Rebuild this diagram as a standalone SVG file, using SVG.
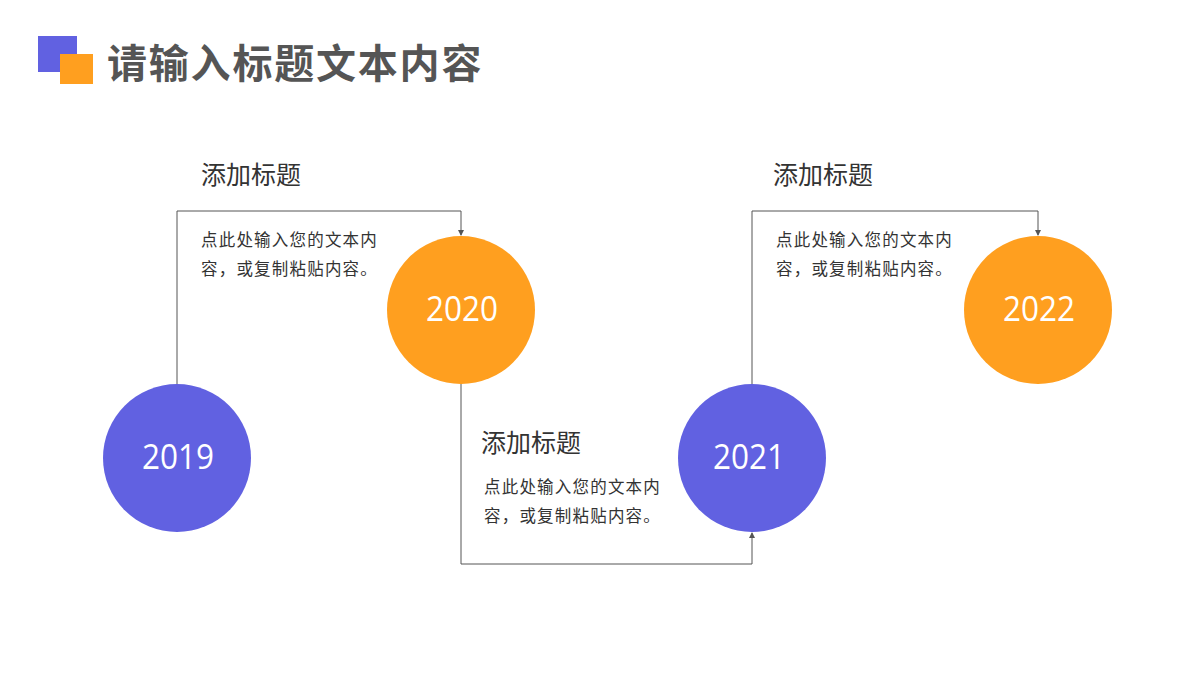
<svg xmlns="http://www.w3.org/2000/svg" width="1200" height="680" viewBox="0 0 1200 680">
<style>
.t{font-family:"Liberation Sans","Noto Sans CJK SC",sans-serif;fill:#333}
.h{font-size:25px}
.b{font-size:16.5px;letter-spacing:1.2px}
.y{font-family:"Open Sans","Noto Sans","Liberation Sans",sans-serif;font-size:35px;font-weight:400;fill:#fff;text-anchor:middle}
.c{fill:none;stroke:#555;stroke-width:1}
.p{fill:#6161E1}
.o{fill:#FF9F1F}
</style>
<defs>
<marker id="ah" viewBox="0 0 6 6" refX="5" refY="3" markerWidth="6" markerHeight="6" markerUnits="userSpaceOnUse" orient="auto">
<path d="M0,0 L6,3 L0,6 z" fill="#555"/>
</marker>
</defs>
<rect width="1200" height="680" fill="#fff"/>
<g id="title">
<rect x="38" y="36" width="39" height="36" class="p"/>
<rect x="60" y="54" width="33" height="30" class="o"/>
<text x="107" y="78" font-family="'Liberation Sans','Noto Sans CJK SC',sans-serif" font-size="40" font-weight="bold" letter-spacing="1.8" fill="#555">请输入标题文本内容</text>
</g>
<g id="connectors">
<path class="c" d="M177,384 V211 H461 V235" marker-end="url(#ah)"/>
<path class="c" d="M461,384 V564 H752 V533" marker-end="url(#ah)"/>
<path class="c" d="M752,384 V211 H1038 V235" marker-end="url(#ah)"/>
</g>
<g id="node2019">
<circle cx="177" cy="458" r="74" class="p"/>
<text x="178" y="469" class="y" textLength="72" lengthAdjust="spacingAndGlyphs">2019</text>
</g>
<g id="node2020">
<circle cx="461" cy="310" r="74" class="o"/>
<text x="462" y="321" class="y" textLength="72" lengthAdjust="spacingAndGlyphs">2020</text>
</g>
<g id="node2021">
<circle cx="752" cy="458" r="74" class="p"/>
<text x="749" y="469" class="y" textLength="72" lengthAdjust="spacingAndGlyphs">2021</text>
</g>
<g id="node2022">
<circle cx="1038" cy="310" r="74" class="o"/>
<text x="1039" y="321" class="y" textLength="72" lengthAdjust="spacingAndGlyphs">2022</text>
</g>
<g id="text1">
<text x="201" y="184" class="t h">添加标题</text>
<text x="201" y="246" class="t b">点此处输入您的文本内</text>
<text x="201" y="275" class="t b">容，或复制粘贴内容。</text>
</g>
<g id="text2">
<text x="481" y="452" class="t h">添加标题</text>
<text x="484" y="493" class="t b">点此处输入您的文本内</text>
<text x="484" y="522" class="t b">容，或复制粘贴内容。</text>
</g>
<g id="text3">
<text x="773" y="184" class="t h">添加标题</text>
<text x="776" y="246" class="t b">点此处输入您的文本内</text>
<text x="776" y="275" class="t b">容，或复制粘贴内容。</text>
</g>
</svg>
